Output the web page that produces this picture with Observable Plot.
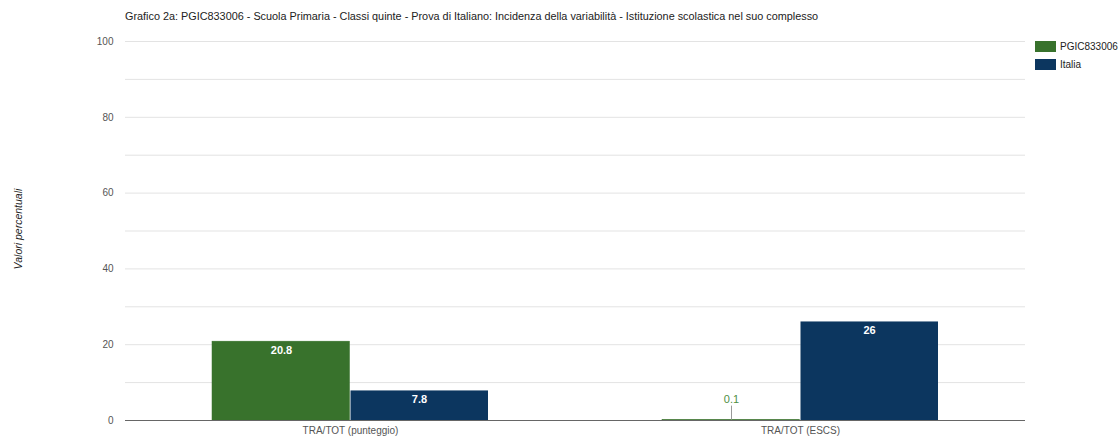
<!DOCTYPE html>
<html>
<head>
<meta charset="utf-8">
<script src="https://cdn.jsdelivr.net/npm/d3@7"></script>
<script src="https://cdn.jsdelivr.net/npm/@observablehq/plot@0.6"></script>
<style>
  body { margin: 0; background: #fff; font-family: Arial, "Liberation Sans", sans-serif; }
  #wrap { position: relative; width: 1120px; height: 437px; overflow: hidden; }
  #title { position: absolute; left: 125px; top: 10px; font-size: 10.85px; color: #222; white-space: nowrap; }
  #ylabel { position: absolute; left: 18px; top: 229px; font-size: 10.5px; font-style: italic; color: #222;
            transform: translate(-50%, -50%) rotate(-90deg); white-space: nowrap; }
  #legend { position: absolute; left: 1035px; top: 37px; font-size: 10px; color: #222; }
  .item { display: flex; align-items: center; height: 18px; }
  .sw { width: 21px; height: 11px; margin-right: 4px; }
  #chart { position: absolute; left: 0; top: 0; }
</style>
</head>
<body>
<div id="wrap">
  <div id="chart"></div>
  <div id="title"></div>
  <div id="ylabel"></div>
  <div id="legend"></div>
</div>
<script>
// ---- data ----
const titleText = "Grafico 2a: PGIC833006 - Scuola Primaria - Classi quinte - Prova di Italiano: Incidenza della variabilità - Istituzione scolastica nel suo complesso";
const yLabelText = "Valori percentuali";
const categories = ["TRA/TOT (punteggio)", "TRA/TOT (ESCS)"];
const series = ["PGIC833006", "Italia"];
const schoolValues = [20.8, 0.1];
const italyValues = [7.8, 26];
const yTicks = [0, 20, 40, 60, 80, 100];
const gridValues = [10, 20, 30, 40, 50, 60, 70, 80, 90, 100];
const colors = ["#38722c", "#0c365f"];

const rows = [];
categories.forEach((c, i) => {
  rows.push({cat: c, series: series[0], value: schoolValues[i]});
  rows.push({cat: c, series: series[1], value: italyValues[i]});
});
const school = rows.filter(d => d.series === series[0]);
const italy = rows.filter(d => d.series === series[1]);
const fmt = v => String(v);

const half = 138.5;
const off = 69;

const chart = Plot.plot({
  width: 1120,
  height: 437,
  marginLeft: 125,
  marginRight: 95,
  marginTop: 41,
  marginBottom: 17,
  style: {fontFamily: "Arial, 'Liberation Sans', sans-serif", fontSize: "10px", color: "#555", background: "#fff"},
  x: {domain: categories, paddingInner: 0.387, paddingOuter: 0.1935, tickSize: 0, tickPadding: 6, label: null},
  y: {domain: [0, 100], ticks: yTicks, tickSize: 0, tickPadding: 12, label: null},
  color: {domain: series, range: colors},
  marks: [
    Plot.ruleY(gridValues, {stroke: "#e3e3e3", strokeWidth: 1}),
    Plot.barY(school, {x: "cat", y: "value", fill: colors[0], stroke: colors[0], strokeWidth: 0.5, insetRight: half, insetLeft: 0}),
    Plot.barY(italy, {x: "cat", y: "value", fill: colors[1], insetLeft: half, insetRight: 0}),
    Plot.ruleY([0], {stroke: "#666", strokeWidth: 1}),
    // labels inside bars
    Plot.text(school.filter(d => d.value >= 2), {x: "cat", y: "value", text: d => fmt(d.value), dx: -off, dy: 9, fill: "#fff", fontWeight: "bold", fontSize: 11}),
    Plot.text(italy.filter(d => d.value >= 2), {x: "cat", y: "value", text: d => fmt(d.value), dx: off, dy: 9, fill: "#fff", fontWeight: "bold", fontSize: 11}),
    // small values: label above with leader line
    Plot.ruleX(school.filter(d => d.value < 2), {x: "cat", y1: "value", y2: "value", dx: -off, insetTop: -14, stroke: "#999"}),
    Plot.text(school.filter(d => d.value < 2), {x: "cat", y: "value", text: d => fmt(d.value), dx: -off, dy: -21, fill: "#4f8f3f", fontSize: 11})
  ]
});
document.getElementById("chart").appendChild(chart);
document.getElementById("title").textContent = titleText;
document.getElementById("ylabel").textContent = yLabelText;
const legend = document.getElementById("legend");
series.forEach((s, i) => {
  const item = document.createElement("div");
  item.className = "item";
  const sw = document.createElement("div");
  sw.className = "sw";
  sw.style.background = colors[i];
  const t = document.createElement("span");
  t.textContent = s;
  item.appendChild(sw);
  item.appendChild(t);
  legend.appendChild(item);
});
</script>
</body>
</html>
